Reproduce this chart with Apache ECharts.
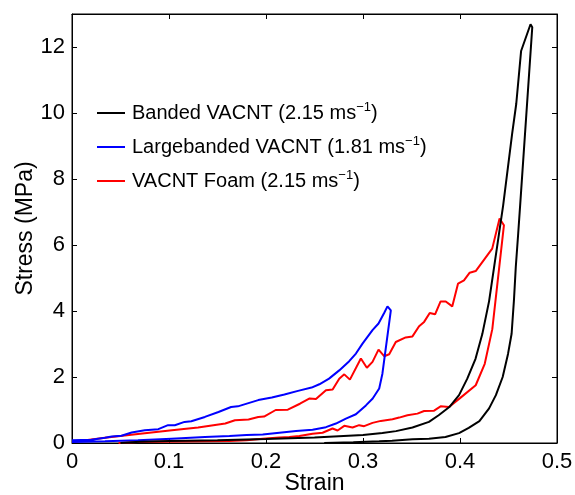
<!DOCTYPE html>
<html>
<head>
<meta charset="utf-8">
<script src="https://cdn.jsdelivr.net/npm/echarts@6/dist/echarts.min.js"></script>
<style>html,body{margin:0;padding:0;background:#fff}#c{width:575px;height:495px}</style>
</head>
<body>
<div id="c"></div>
<script>
// Banded VACNT (black): loading then unloading
const bandedStrain = [0.05,0.07,0.10,0.15,0.20,0.25,0.30,0.32,0.334,0.351,0.368,0.378,0.389,0.399,0.4075,0.416,0.423,0.430,0.435,0.440,0.4445,0.4538,0.458,0.463,0.4727,0.4745,
  0.4620,0.4600,0.4575,0.4556,0.4532,0.4495,0.444,0.437,0.430,0.420,0.409,0.399,0.385,0.368,0.351,0.330,0.3167,0.29,0.26];
const bandedStress = [0.0,0.04,0.06,0.08,0.12,0.17,0.24,0.30,0.36,0.47,0.64,0.84,1.09,1.45,1.95,2.55,3.3,4.3,5.3,6.3,7.2,9.38,10.28,11.88,12.69,12.6,
  7.2,6.35,5.33,4.32,3.31,2.7,2.0,1.45,1.05,0.66,0.46,0.3,0.18,0.13,0.11,0.07,0.05,0.02,0.0];

// Largebanded VACNT (blue)
const largeStrain = [0,0.02,0.034,0.041,0.051,0.0615,0.075,0.089,0.099,0.106,0.116,0.123,0.137,0.151,0.164,0.171,0.192,0.206,0.219,0.233,0.247,0.255,0.265,0.2755,0.2858,0.2927,0.2995,0.3098,0.316,0.3218,0.3252,0.3287,
  0.320,0.3167,0.310,0.303,0.2927,0.2824,0.2721,0.2618,0.248,0.231,0.2138,0.1966,0.18,0.1623,0.137,0.1027,0.068,0.034,0];
const largeStress = [0.08,0.1,0.16,0.2,0.22,0.32,0.385,0.42,0.54,0.54,0.64,0.66,0.79,0.94,1.09,1.11,1.3,1.38,1.47,1.58,1.68,1.78,1.95,2.2,2.48,2.71,3.01,3.42,3.62,3.94,4.14,4.02,
  2.1,1.65,1.35,1.14,0.87,0.74,0.59,0.48,0.4,0.36,0.31,0.26,0.24,0.21,0.18,0.13,0.08,0.05,0.03];

// VACNT Foam (red)
const foamStrain = [0,0.034,0.068,0.103,0.13,0.144,0.158,0.168,0.182,0.192,0.198,0.21,0.2225,0.235,0.245,0.2515,0.2618,0.2687,0.2755,0.2807,0.2865,0.2978,0.304,0.3098,0.316,0.3218,0.327,0.3338,0.344,0.351,0.3578,0.363,0.3688,0.3743,0.380,0.3853,0.392,0.398,0.4041,0.41,0.4162,0.4332,0.4408,0.4453,
  0.4333,0.4255,0.4162,0.400,0.3887,0.380,0.3733,0.363,0.3561,0.3458,0.3373,0.3304,0.3184,0.3098,0.3012,0.296,0.2892,0.2807,0.2738,0.2686,0.2583,0.248,0.2344,0.224,0.2138,0.1966,0.18,0.1623,0.137,0.068,0.048];
const foamStress = [0.03,0.16,0.27,0.385,0.47,0.53,0.59,0.69,0.71,0.79,0.8,1.0,1.01,1.19,1.35,1.33,1.6,1.62,1.95,2.08,1.92,2.56,2.28,2.46,2.83,2.63,2.69,3.06,3.2,3.23,3.54,3.67,3.94,3.9,4.29,4.29,4.14,4.83,4.93,5.16,5.21,5.89,6.8,6.6,
  3.45,2.4,1.75,1.36,1.09,1.11,0.98,0.97,0.89,0.84,0.77,0.72,0.67,0.61,0.51,0.54,0.47,0.52,0.38,0.44,0.31,0.28,0.21,0.18,0.17,0.13,0.08,0.06,0.05,0.03,0.0];

const seriesNames = ['Banded VACNT (2.15 ms{sup|\u22121})', 'Largebanded VACNT (1.81 ms{sup|\u22121})', 'VACNT Foam (2.15 ms{sup|\u22121})'];
const seriesColors = ['#000000', '#0000ff', '#ff0000'];
const xTicks = [0, 0.1, 0.2, 0.3, 0.4, 0.5];
const yTicks = [0, 2, 4, 6, 8, 10, 12];

function zip(a, b) { return a.map((v, i) => [v, b[i]]); }
const allData = [zip(bandedStrain, bandedStress), zip(largeStrain, largeStress), zip(foamStrain, foamStress)];

const FONT = 'Liberation Sans, Arial, Helvetica, sans-serif';
const chart = echarts.init(document.getElementById('c'), null, {renderer: 'canvas'});

const axisCommon = {
  show: true,
  nameMoveOverlap: false,
  axisLine: {show: true, onZero: false, lineStyle: {color: '#000', width: 1}},
  axisTick: {show: true, inside: true, length: 5, lineStyle: {color: '#000', width: 1}},
  splitLine: {show: false},
  minorTick: {show: false}
};

const mainSeries = allData.map((d, i) => ({
  name: seriesNames[i],
  type: 'line',
  xAxisIndex: 0,
  yAxisIndex: 0,
  data: d,
  showSymbol: false,
  symbol: 'none',
  smooth: false,
  color: seriesColors[i],
  lineStyle: {color: seriesColors[i], width: 2},
  itemStyle: {color: seriesColors[i]},
  z: 3 - i
}));
// empty helper series so the top/right mirror axes are rendered (draws nothing)
mainSeries.push({type: 'line', xAxisIndex: 1, yAxisIndex: 1, data: [], symbol: 'none', silent: true});

chart.setOption({
  animation: false,
  backgroundColor: '#fff',
  grid: {left: 72, right: 18, top: 14, bottom: 52, containLabel: false, outerBoundsMode: 'none',
    show: true, borderColor: '#000', borderWidth: 1, backgroundColor: 'transparent'},
  legend: {
    show: true,
    orient: 'vertical',
    left: 97,
    top: 101,
    padding: 0,
    itemWidth: 28,
    itemHeight: 2,
    itemGap: 10,
    icon: 'rect',
    data: seriesNames,
    formatter: n => n,
    textStyle: {
      fontFamily: FONT, fontSize: 20, color: '#000', lineHeight: 24, padding: [0, 0, 0, 2],
      rich: {sup: {fontFamily: FONT, fontSize: 13, color: '#000', lineHeight: 10, verticalAlign: 'top'}}
    }
  },
  xAxis: [
    Object.assign({}, axisCommon, {
      type: 'value', min: 0, max: 0.5, interval: 0.1, position: 'bottom',
      name: 'Strain', nameLocation: 'middle', nameGap: 29,
      nameTextStyle: {fontFamily: FONT, fontSize: 23, color: '#000'},
      axisLabel: {show: true, margin: 8, fontFamily: FONT, fontSize: 22, color: '#000',
        formatter: v => { const t = xTicks.find(k => Math.abs(k - v) < 1e-9); return t === undefined ? '' : (t === 0 ? '0' : t.toFixed(1)); }}
    }),
    Object.assign({}, axisCommon, {
      type: 'value', min: 0, max: 0.5, interval: 0.1, position: 'top',
      axisLabel: {show: false}
    })
  ],
  yAxis: [
    Object.assign({}, axisCommon, {
      type: 'value', min: 0, max: 13, interval: 2, position: 'left',
      name: 'Stress (MPa)', nameLocation: 'middle', nameGap: 35,
      nameTextStyle: {fontFamily: FONT, fontSize: 23, color: '#000'},
      axisLabel: {show: true, margin: 7, fontFamily: FONT, fontSize: 22, color: '#000', showMaxLabel: false,
        formatter: v => (yTicks.indexOf(v) >= 0 ? String(v) : '')}
    }),
    Object.assign({}, axisCommon, {
      type: 'value', min: 0, max: 13, interval: 2, position: 'right',
      axisLabel: {show: false}
    })
  ],
  series: mainSeries
});
</script>
</body>
</html>
